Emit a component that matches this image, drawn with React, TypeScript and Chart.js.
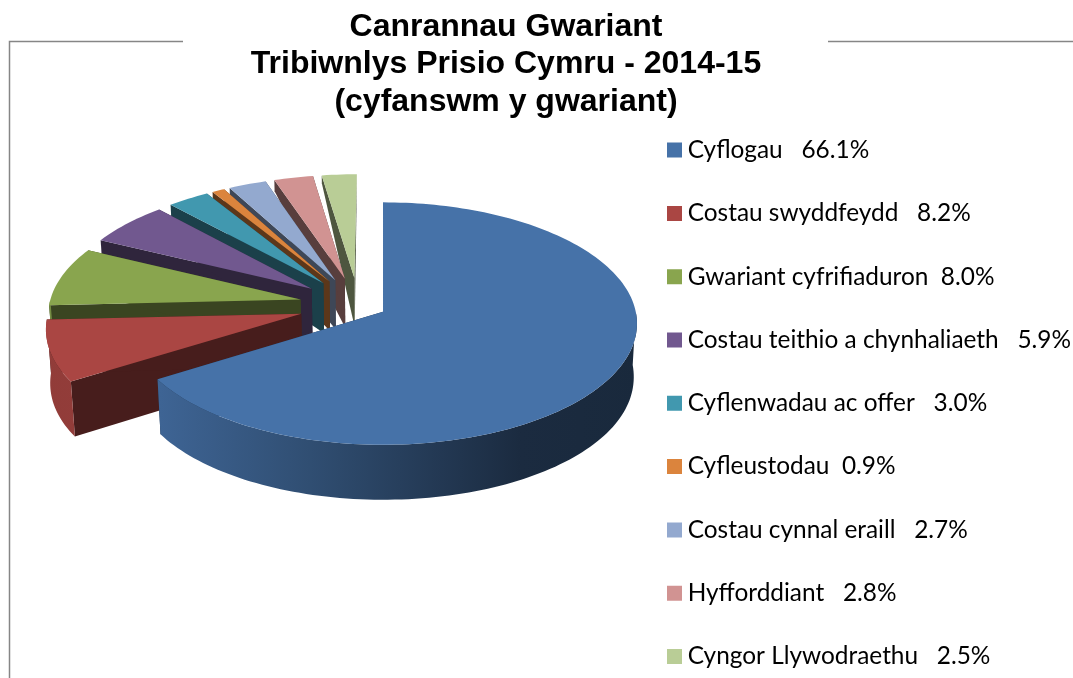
import React, { useEffect, useRef } from "react";
import { Chart, registerables } from "chart.js";

Chart.register(...registerables);

const categories = [
  "Cyflogau",
  "Costau swyddfeydd",
  "Gwariant cyfrifiaduron",
  "Costau teithio a chynhaliaeth",
  "Cyflenwadau ac offer",
  "Cyfleustodau",
  "Costau cynnal eraill",
  "Hyfforddiant",
  "Cyngor Llywodraethu",
];
const percentages = [66.1, 8.2, 8.0, 5.9, 3.0, 0.9, 2.7, 2.8, 2.5];
const labelGaps = ["   ", "   ", "  ", "   ", "   ", "  ", "   ", "   ", "   "];
const colors = ["#4672A8", "#AA4643", "#89A54E", "#71588F", "#4198AF", "#DB843D", "#93A9CF", "#D19392", "#B9CD96"];
const explosion = [0.112, 0.236, 0.236, 0.236, 0.236, 0.236, 0.236, 0.236, 0.236];
const titleLines = ["Canrannau Gwariant", "Tribiwnlys Prisio Cymru - 2014-15", "(cyfanswm y gwariant)"];

const PIVOT_X = 383;
const PIVOT_Y = 313;
const RADIUS = 253;
const VERTICAL = 120.3;
const PERSPECTIVE = 0.098;
const SHIFT_U = -0.098;
const SHIFT_V = -0.065;
const NADIR_TILT = 0.000235;

function shade(hex: string, f: number) {
  const n = parseInt(hex.slice(1), 16);
  const c = [(n >> 16) & 255, (n >> 8) & 255, n & 255].map((v) => Math.round(v * f));
  return `rgb(${c[0]},${c[1]},${c[2]})`;
}

function depthAt(v: number) {
  return Math.max(6, 55 - 6 * Math.pow(Math.max(0, 0.7 - v), 3));
}

type P = { x: number; y: number; d: number };

function project(u: number, v: number, R: number): P {
  const k = 1 - PERSPECTIVE * v;
  return { x: PIVOT_X + (R * u) / k, y: PIVOT_Y + (VERTICAL * v) / k, d: depthAt(v) };
}

function fillPoly(ctx: CanvasRenderingContext2D, pts: { x: number; y: number }[], style: any) {
  ctx.beginPath();
  pts.forEach((p, i) => (i ? ctx.lineTo(p.x, p.y) : ctx.moveTo(p.x, p.y)));
  ctx.closePath();
  ctx.fillStyle = style;
  ctx.fill();
}

const pie3d = {
  id: "pie3d",
  beforeDraw(chart: any) {
    const { ctx } = chart;
    ctx.save();
    ctx.strokeStyle = "#868686";
    ctx.lineWidth = 1.5;
    ctx.beginPath();
    ctx.moveTo(183, 41.5);
    ctx.lineTo(9.5, 41.5);
    ctx.lineTo(9.5, 678);
    ctx.moveTo(828, 41.5);
    ctx.lineTo(1073, 41.5);
    ctx.stroke();
    ctx.restore();
  },
  afterLayout(chart: any) {
    const title = chart.titleBlock;
    title.left = 0;
    title.right = 1012;
    title.top = 8;
    const legend = chart.legend;
    legend.left = 634.6;
    legend.right = 1073;
    legend.top = 99;
    legend.bottom = 777;
  },
  beforeDatasetsDraw(chart: any) {
    const { ctx } = chart;
    const arcs = chart.getDatasetMeta(0).data;
    ctx.save();
    for (let i = arcs.length - 1; i >= 0; i--) {
      const arc = arcs[i];
      const R = arc.outerRadius;
      const a0 = arc.startAngle;
      const a1 = arc.endAngle;
      const mid = (a0 + a1) / 2;
      const color = colors[i];
      const u0 = SHIFT_U + explosion[i] * Math.cos(mid);
      const v0 = SHIFT_V + explosion[i] * Math.sin(mid);
      const apex = project(u0, v0, R);
      const rim: P[] = [];
      const rimFront: P[] = [];
      const steps = Math.max(6, Math.ceil((a1 - a0) * 40));
      for (let s = 0; s <= steps; s++) {
        const a = a0 + ((a1 - a0) * s) / steps;
        const p = project(u0 + Math.cos(a), v0 + Math.sin(a), R);
        rim.push(p);
        if (Math.sin(a) >= 0) rimFront.push(p);
      }
      const down = (p: P) => ({ x: p.x + (PIVOT_X - p.x) * NADIR_TILT * p.d, y: p.y + p.d });
      const dark = shade(color, 0.42);
      const first = rim[0];
      const last = rim[rim.length - 1];
      fillPoly(ctx, [apex, first, down(first), down(apex)], dark);
      fillPoly(ctx, [apex, last, down(last), down(apex)], dark);
      if (rimFront.length > 1) {
        const g = ctx.createLinearGradient(40, 0, 640, 0);
        g.addColorStop(0, shade(color, 0.85));
        g.addColorStop(0.2, shade(color, 0.88));
        g.addColorStop(0.45, shade(color, 0.68));
        g.addColorStop(0.8, shade(color, 0.38));
        g.addColorStop(1, shade(color, 0.36));
        fillPoly(ctx, [...rimFront, ...rimFront.slice().reverse().map(down)], g);
      }
      fillPoly(ctx, [apex, ...rim], color);
    }
    ctx.restore();
    return false;
  },
};

export default function App() {
  const ref = useRef<HTMLCanvasElement>(null);
  useEffect(() => {
    const chart = new Chart(ref.current as HTMLCanvasElement, {
      type: "pie",
      data: {
        labels: categories.map((c, i) => `${c}${labelGaps[i]}${percentages[i].toFixed(1)}%`),
        datasets: [{ data: percentages, backgroundColor: colors, borderWidth: 0 }],
      },
      options: {
        responsive: false,
        animation: false,
        radius: RADIUS,
        layout: { padding: 0 },
        plugins: {
          tooltip: { enabled: false },
          title: {
            display: true,
            text: titleLines,
            color: "#000000",
            font: { family: "'Liberation Sans'", size: 32, weight: "bold", lineHeight: 1.172 },
            padding: 0,
          },
          legend: {
            display: true,
            position: "right",
            align: "start",
            labels: {
              usePointStyle: true,
              pointStyle: "rect",
              boxWidth: 2,
              boxHeight: 15,
              padding: 38.9,
              color: "#000000",
              font: { family: "Lato", size: 24.4 },
            },
          },
        },
      },
      plugins: [pie3d],
    } as any);
    return () => chart.destroy();
  }, []);
  return (
    <div style={{ position: "fixed", left: 0, top: 0, width: 1073, height: 678, background: "#fff" }}>
      <canvas ref={ref} width={1073} height={678} style={{ display: "block" }} />
    </div>
  );
}
